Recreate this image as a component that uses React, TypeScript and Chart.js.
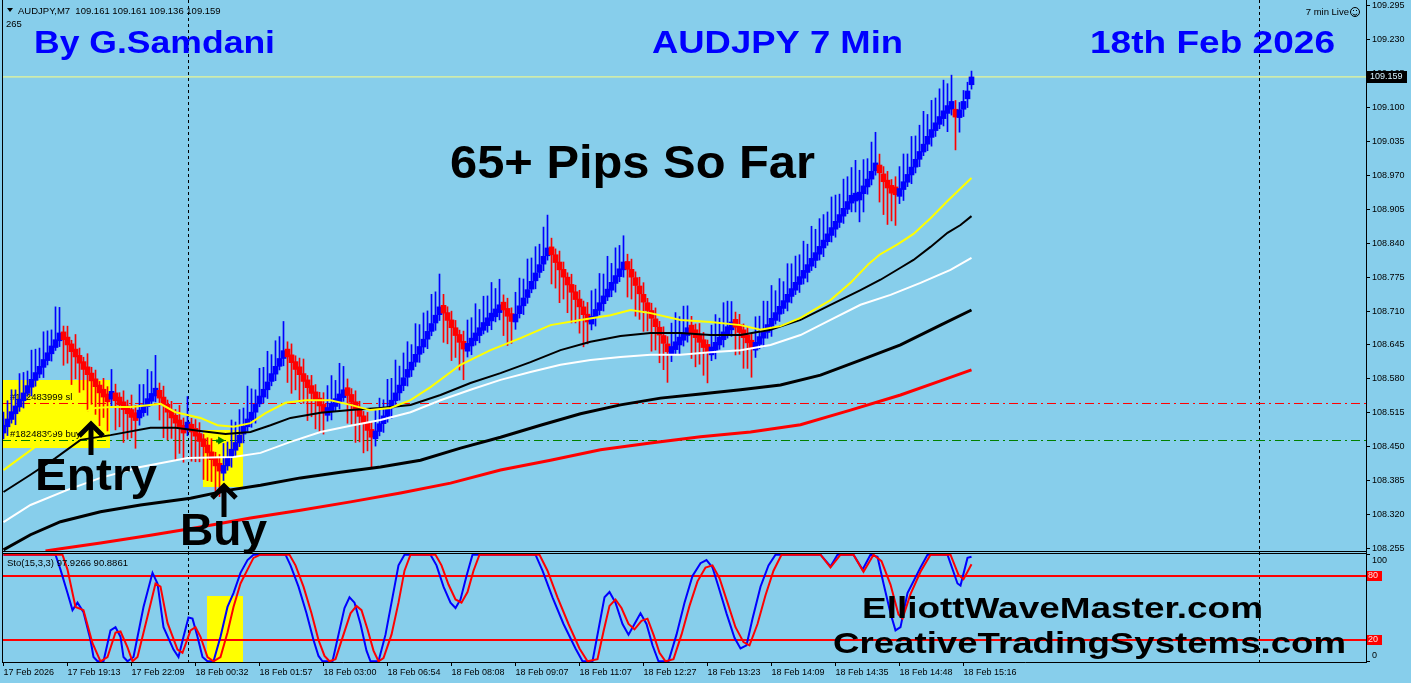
import React, { useEffect, useRef } from 'react';
import { Chart, registerables } from 'chart.js';
Chart.register(...registerables);

const BG = '#87CEEB';
const FONT = '"Liberation Sans", Arial, sans-serif';

// ---------- axis labels ----------
const timeLabels = [
  '17 Feb 2026', '17 Feb 19:13', '17 Feb 22:09', '18 Feb 00:32', '18 Feb 01:57', '18 Feb 03:00',
  '18 Feb 06:54', '18 Feb 08:08', '18 Feb 09:07', '18 Feb 11:07', '18 Feb 12:27', '18 Feb 13:23',
  '18 Feb 14:09', '18 Feb 14:35', '18 Feb 14:48', '18 Feb 15:16',
];
const LABEL_EVERY = 16;
const priceTicks = [108.255, 108.32, 108.385, 108.45, 108.515, 108.58, 108.645, 108.71, 108.775,
  108.84, 108.905, 108.97, 109.035, 109.1, 109.165, 109.23, 109.295];
const stochTicks = [0, 20, 80, 100];

// ---------- price bars (renko style bricks) ----------
const BRICK = 0.015;
const WICK_UNIT = 0.0014;
const closes = [
  108.491, 108.503, 108.517, 108.528, 108.541, 108.553, 108.567, 108.579, 108.592, 108.604, 108.617, 108.630, 108.643, 108.655, 108.668,
  108.655, 108.645, 108.632, 108.622, 108.610, 108.598, 108.588, 108.576, 108.565, 108.553, 108.545, 108.536,
  108.556,
  108.538, 108.530, 108.521, 108.513, 108.506, 108.500,
  108.520, 108.530, 108.542, 108.552, 108.562,
  108.543, 108.530, 108.516, 108.505, 108.495, 108.486, 108.476,
  108.497,
  108.478, 108.470, 108.460, 108.450, 108.438, 108.425, 108.413, 108.403,
  108.414, 108.428, 108.445, 108.458, 108.472, 108.489, 108.503, 108.516, 108.531, 108.547, 108.560, 108.574, 108.590, 108.604, 108.619, 108.634,
  108.622, 108.611, 108.598, 108.588, 108.575, 108.563, 108.552, 108.540, 108.528, 108.516,
  108.525, 108.533, 108.542, 108.551, 108.559,
  108.548, 108.535, 108.521, 108.508, 108.494, 108.481, 108.468,
  108.480, 108.494, 108.509, 108.523, 108.539, 108.553, 108.568, 108.582, 108.598, 108.612, 108.627, 108.642, 108.656, 108.671, 108.686, 108.702, 108.718,
  108.706, 108.692, 108.678, 108.663, 108.650, 108.637,
  108.648, 108.658, 108.668, 108.678, 108.688, 108.697, 108.706, 108.714, 108.722,
  108.712, 108.700, 108.690,
  108.704, 108.720, 108.735, 108.751, 108.767, 108.783, 108.799, 108.815, 108.831,
  108.818, 108.803, 108.789, 108.775, 108.760, 108.746, 108.732, 108.718, 108.703, 108.689,
  108.700, 108.713, 108.726, 108.739, 108.752, 108.765, 108.778, 108.791, 108.804,
  108.790, 108.775, 108.759, 108.743, 108.727, 108.711, 108.696, 108.680, 108.664, 108.648, 108.632,
  108.642, 108.651, 108.660, 108.669, 108.678,
  108.668, 108.659, 108.650, 108.640, 108.631,
  108.641, 108.650, 108.660, 108.670, 108.680, 108.689,
  108.679, 108.669, 108.659, 108.649, 108.639,
  108.650, 108.661, 108.673, 108.684, 108.696, 108.707, 108.719, 108.730, 108.742, 108.753, 108.765, 108.776, 108.788, 108.799, 108.811,
  108.822, 108.834, 108.846, 108.858, 108.870, 108.882, 108.895, 108.907, 108.920, 108.932, 108.936, 108.938, 108.950, 108.963, 108.978, 108.994,
  108.975, 108.958, 108.946, 108.936, 108.933,
  108.945, 108.958, 108.972, 108.986, 109.001, 109.016, 109.030, 109.045, 109.058, 109.071, 109.083, 109.094, 109.104, 109.112,
  109.082,
  109.096, 109.112, 109.132, 109.159,
];
// wick lengths beyond the body, in WICK_UNIT
const wickUp = [
  18, 25, 30, 22, 35, 28, 20, 40, 32, 25, 38, 30, 22, 45, 35,
  8, 15, 5, 20, 10, 6, 18, 8, 12, 5, 15, 10,
  30,
  12, 6, 15, 8, 20, 10,
  35, 28, 40, 30, 45,
  10, 15, 6, 12, 8, 20, 10,
  35,
  8, 12, 15, 6, 10, 18, 8, 12,
  30, 22, 40, 28, 35, 25, 45, 32, 20, 38, 30, 42, 26, 35, 30, 40,
  10, 15, 8, 12, 20, 6, 14, 10, 8, 16,
  30, 38, 25, 42, 32,
  12, 8, 15, 10, 6, 14, 10,
  28, 35, 22, 40, 30, 45, 26, 34, 38, 24, 42, 30, 36, 28, 40, 32, 45,
  15, 8, 12, 10, 6, 14,
  32, 28, 40, 25, 36, 30, 42, 28, 35,
  10, 14, 8,
  30, 38, 26, 42, 32, 36, 28, 40, 45,
  12, 8, 15, 10, 6, 14, 9, 12, 8, 16,
  35, 28, 40, 30, 45, 26, 38, 32, 36,
  10, 14, 8, 12, 16, 6, 10, 15, 8, 12, 10,
  32, 40, 28, 36, 30,
  12, 8, 15, 10, 6,
  30, 38, 26, 40, 35, 28,
  10, 14, 8, 12, 9,
  35, 28, 40, 32, 45, 30, 38, 26, 42, 34, 36, 30, 40, 28, 44,
  32, 38, 35, 30, 42, 36, 28, 40, 34, 38, 45, 30, 36, 28, 40, 42,
  15, 10, 12, 8, 14,
  30, 38, 28, 42, 32, 36, 45, 30, 40, 34, 38, 42, 30, 36,
  12,
  10, 15, 12, 8,
];
const wickDn = [
  8, 12, 5, 15, 6, 10, 4, 12, 8, 5, 14, 6, 10, 4, 8,
  35, 25, 45, 30, 40, 28, 50, 32, 38, 45, 28, 40,
  10,
  40, 30, 45, 35, 28, 38,
  10, 5, 12, 6, 8,
  30, 45, 38, 28, 50, 35, 40,
  8,
  40, 35, 28, 45, 38, 30, 42, 35,
  10, 6, 14, 8, 5, 12, 6, 10, 15, 4, 8, 12, 6, 9, 5, 10,
  35, 42, 28, 38, 30, 45, 32, 40, 36, 30,
  8, 12, 6, 10, 5,
  38, 30, 45, 35, 40, 28, 42,
  10, 6, 12, 8, 14, 5, 10, 7, 12, 9, 6, 11, 8, 13, 6, 10, 8,
  40, 32, 45, 30, 38, 42,
  8, 12, 6, 10, 5, 9, 12, 7, 10,
  35, 40, 30,
  10, 6, 12, 8, 5, 11, 7, 9, 6,
  40, 35, 45, 30, 38, 42, 32, 36, 44, 30,
  8, 12, 6, 10, 5, 9, 12, 7, 10,
  38, 30, 42, 35, 40, 28, 45, 32, 38, 36, 42,
  10, 6, 12, 8, 9,
  35, 40, 30, 38, 42,
  8, 12, 6, 10, 5, 9,
  38, 30, 42, 35, 40,
  10, 6, 12, 8, 14, 5, 10, 7, 12, 9, 6, 11, 8, 13, 6,
  10, 8, 12, 5, 9, 11, 7, 10, 6, 12, 15, 30, 25, 10, 8, 6,
  40, 45, 50, 38, 42,
  10, 15, 6, 12, 8, 10, 5, 9, 12, 8, 6, 10, 25, 8,
  45,
  20, 10, 12, 6,
];

// ---------- moving averages: [bar index, price] ----------
const maYellow: [number, number][] = [
  [0, 108.405], [7.5, 108.447], [13, 108.482], [18, 108.511], [23, 108.524], [26.75, 108.526], [31.75, 108.526],
  [36.75, 108.530], [39.25, 108.532], [43, 108.516], [49.25, 108.505], [53.5, 108.491], [57.5, 108.488],
  [61.75, 108.495], [65.5, 108.514], [70.5, 108.534], [75.5, 108.539], [81.75, 108.539], [86.75, 108.530],
  [91.75, 108.520], [96.75, 108.524], [101.75, 108.539], [106.75, 108.564], [114.25, 108.607], [121.75, 108.635],
  [129.25, 108.658], [136.75, 108.683], [144.25, 108.693], [151.75, 108.702], [156.75, 108.712], [161.75, 108.706],
  [169.25, 108.693], [176.75, 108.689], [184.25, 108.683], [189.25, 108.674], [194.25, 108.681], [199.25, 108.697],
  [206.75, 108.731], [211.75, 108.764], [216.25, 108.800], [219, 108.818], [223.5, 108.838], [227.5, 108.858],
  [231.75, 108.888], [236, 108.921], [239.25, 108.945], [242, 108.965],
];
const maBlackThin: [number, number][] = [
  [0, 108.363], [6.75, 108.396], [13, 108.428], [19.25, 108.463], [26.75, 108.472], [36.75, 108.486], [43, 108.486],
  [49.25, 108.480], [55.5, 108.474], [61.75, 108.478], [66.75, 108.491], [71.75, 108.505], [79.25, 108.515],
  [86.75, 108.520], [94.25, 108.524], [101.75, 108.530], [109.25, 108.549], [116.75, 108.572], [124.25, 108.591],
  [131.75, 108.612], [139.25, 108.635], [146.75, 108.651], [154.25, 108.662], [161.75, 108.668], [169.25, 108.668],
  [176.75, 108.664], [184.25, 108.664], [191.75, 108.674], [199.25, 108.693], [206.75, 108.722], [214.25, 108.750],
  [219.25, 108.770], [224.25, 108.793], [227.5, 108.808], [231.75, 108.833], [236, 108.860], [239.25, 108.875], [242, 108.892],
];
const maWhite: [number, number][] = [
  [0, 108.305], [6.75, 108.338], [16, 108.367], [24.25, 108.390], [34.25, 108.411], [46, 108.428], [57.5, 108.430],
  [64.25, 108.438], [71.75, 108.459], [79.25, 108.478], [86.75, 108.490], [94.25, 108.501], [101.75, 108.516],
  [109.25, 108.539], [116.75, 108.559], [124.25, 108.578], [131.75, 108.593], [139.25, 108.607], [146.75, 108.616],
  [154.25, 108.622], [161.75, 108.626], [169.25, 108.626], [176.75, 108.631], [184.25, 108.635], [191.75, 108.645],
  [199.25, 108.664], [206.75, 108.693], [214.25, 108.722], [221.75, 108.741], [229.25, 108.764], [236.75, 108.789], [242, 108.812],
];
const maBlackThick: [number, number][] = [
  [0, 108.252], [6.75, 108.281], [14.25, 108.306], [24.25, 108.325], [34.25, 108.338], [46.75, 108.351], [56.75, 108.367],
  [64.25, 108.376], [74.25, 108.390], [84.25, 108.401], [94.25, 108.411], [104.25, 108.424], [114.25, 108.447],
  [124.25, 108.468], [134.25, 108.491], [144.25, 108.513], [154.25, 108.530], [164.25, 108.543], [174.25, 108.551],
  [184.25, 108.559], [194.25, 108.568], [204.25, 108.587], [214.25, 108.616], [224.25, 108.645], [234.25, 108.683], [242, 108.712],
];
const maRed: [number, number][] = [
  [10.5, 108.250], [14.25, 108.254], [24.25, 108.265], [36.75, 108.280], [49.25, 108.296], [61.75, 108.313], [74.25, 108.328],
  [86.75, 108.344], [99.25, 108.361], [111.75, 108.380], [124.25, 108.405], [136.75, 108.424], [149.25, 108.444],
  [161.75, 108.457], [174.25, 108.469], [186.75, 108.478], [199.25, 108.492], [211.75, 108.520], [224.25, 108.549],
  [234.25, 108.576], [242, 108.597],
];

// ---------- stochastic (15,3,3): [bar index, value] ----------
const stochMain: [number, number][] = [
  [0, 100], [13, 100], [14.25, 86], [16, 64], [17.25, 48], [18.5, 55], [20, 46], [21.75, 20], [22.5, 4], [23.5, 0], [25, 0],
  [26.75, 29], [28, 32], [29.25, 23], [30, 4], [31, 0], [32.5, 4], [35, 51], [37.25, 83], [38.5, 73], [40, 32], [42.5, 11],
  [43.75, 4], [45, 23], [46.25, 41], [47.25, 40], [48.5, 23], [49.75, 4], [51, 0], [52.5, 0], [54.25, 23], [56, 51],
  [57.5, 64], [59.25, 83], [61, 95], [62.5, 100], [70.5, 100], [71.75, 90], [73.75, 70], [75.75, 45], [77.5, 20],
  [78.75, 5], [79.75, 0], [82.25, 0], [83.75, 25], [85.25, 50], [86.5, 60], [87.75, 55], [89.25, 35], [90.75, 10],
  [91.75, 0], [93.75, 0], [95.5, 25], [97.25, 60], [98.75, 90], [100.25, 100], [106.75, 100], [108.25, 90], [110, 70],
  [111.75, 55], [113, 50], [114.25, 58], [115.75, 80], [117.25, 100], [133, 100], [134.75, 85], [137.25, 60], [140, 35],
  [143, 12], [144.75, 0], [147.25, 0], [148.75, 30], [150.25, 60], [151.5, 65], [153, 55], [154.75, 35], [156.25, 25],
  [157.75, 35], [159.25, 45], [160.75, 35], [162.25, 15], [163.75, 0], [166.25, 0], [168.25, 25], [170.25, 55],
  [172.25, 80], [174.25, 92], [175.75, 95], [177.25, 88], [178.75, 70], [180.75, 45], [182.75, 22], [184.25, 12],
  [185.75, 15], [187.25, 40], [189.25, 70], [191.25, 90], [193, 100], [204.25, 100], [206.75, 89], [208.5, 100],
  [212.5, 100], [214.75, 86], [216.75, 100], [218.5, 98], [220, 73], [221.75, 45], [223, 29], [224.25, 32], [226, 64],
  [229.25, 88], [231, 100], [236, 100], [238.5, 73], [239.25, 71], [241, 97], [242, 98],
];
const stochSignal: [number, number][] = [
  [0, 100], [14.75, 100], [16, 86], [18, 51], [20, 48], [22.25, 17], [24.25, 0], [26, 4], [28, 27], [29.25, 28], [31, 13],
  [32.25, 0], [33.5, 4], [36, 42], [38, 73], [39.25, 70], [41, 36], [43.5, 11], [44.75, 8], [46.75, 29], [48, 32],
  [49.25, 23], [51, 4], [52.5, 0], [54.25, 4], [56, 27], [57.5, 51], [59.25, 73], [61, 86], [62.5, 97], [64.25, 100],
  [71.5, 100], [73, 90], [75, 70], [77, 45], [78.75, 20], [80.25, 5], [81.5, 0], [83, 2], [85, 25], [86.75, 45],
  [88.25, 52], [89.5, 48], [91, 30], [92.5, 10], [93.75, 0], [95, 3], [97, 25], [98.75, 55], [100.25, 85], [101.75, 100],
  [108, 100], [109.5, 90], [111.25, 72], [113, 58], [114.5, 55], [116, 65], [117.5, 85], [119, 100], [134, 100],
  [136, 85], [138.5, 60], [141.25, 35], [144, 12], [146, 0], [148.5, 2], [150, 28], [151.5, 52], [153, 58], [154.5, 50],
  [156.25, 35], [157.75, 30], [159.5, 38], [161, 40], [162.5, 25], [164, 8], [165.5, 0], [167.5, 2], [169.5, 25],
  [171.5, 52], [173.5, 75], [175.5, 88], [177.25, 90], [179, 78], [181, 55], [183, 32], [185, 18], [186.5, 15],
  [188.5, 35], [190.5, 62], [192.5, 85], [194.5, 100], [204.25, 100], [206.75, 88], [209.25, 100], [212.5, 100],
  [215, 84], [217.5, 100], [219.5, 94], [221.75, 72], [223.75, 44], [224.75, 40], [226.75, 63], [229.25, 84],
  [231.75, 100], [236.75, 100], [238.75, 81], [240, 77], [242, 91],
];

// ---------- horizontal levels ----------
const currentPrice = 109.159;
const slPrice = 108.5327;
const buyPrice = 108.4617;
const stochLevels = [80, 20];

// ---------- view ----------
const X_MIN = -0.375;
const X_MAX = 340.625;
const Y_MIN = 108.2498;
const Y_MAX = 109.3065;
const S_MIN = -0.66;
const S_MAX = 103.47;

function stretchText(ctx: CanvasRenderingContext2D, text: string, x: number, base: number, size: number, width: number, color: string) {
  ctx.save();
  ctx.font = `bold ${size}px ${FONT}`;
  const w = ctx.measureText(text).width;
  ctx.translate(x, base);
  ctx.scale(width / w, 1);
  ctx.fillStyle = color;
  ctx.textAlign = 'left';
  ctx.textBaseline = 'alphabetic';
  ctx.fillText(text, 0, 0);
  ctx.restore();
}

function upArrow(ctx: CanvasRenderingContext2D, cx: number, tip: number, bottom: number) {
  ctx.save();
  ctx.strokeStyle = '#000';
  ctx.lineWidth = 5;
  ctx.lineJoin = 'miter';
  ctx.lineCap = 'butt';
  ctx.beginPath();
  ctx.moveTo(cx, tip + 4);
  ctx.lineTo(cx, bottom);
  ctx.stroke();
  ctx.beginPath();
  ctx.moveTo(cx - 12, tip + 14);
  ctx.lineTo(cx, tip + 2);
  ctx.lineTo(cx + 12, tip + 14);
  ctx.stroke();
  ctx.restore();
}

const overlay = {
  id: 'overlay',
  beforeDraw(chart: any) {
    const ctx = chart.ctx;
    ctx.save();
    ctx.fillStyle = BG;
    ctx.fillRect(0, 0, chart.width, chart.height);
    ctx.restore();
  },
  beforeDatasetsDraw(chart: any) {
    const ctx: CanvasRenderingContext2D = chart.ctx;
    const x = chart.scales.x, y = chart.scales.y, s = chart.scales.y2;
    ctx.save();
    ctx.fillStyle = '#ffff00';
    const rect = (x0: number, x1: number, ya: number, yb: number) => {
      const l = Math.round(x.getPixelForValue(x0)), r = Math.round(x.getPixelForValue(x1));
      const t = Math.round(Math.min(ya, yb)), b = Math.round(Math.max(ya, yb));
      ctx.fillRect(l, t, r - l, b - t);
    };
    rect(-0.125, 26.6, y.getPixelForValue(108.578), y.getPixelForValue(108.447));
    rect(49.9, 59.9, y.getPixelForValue(108.482), y.getPixelForValue(108.373));
    rect(50.9, 59.9, s.getPixelForValue(61), s.getPixelForValue(S_MIN));

    ctx.fillStyle = '#000';
    ctx.font = `9.5px ${FONT}`;
    ctx.textBaseline = 'middle';
    ctx.fillText('#182483999 sl', 10, 397);
    ctx.fillText('#182483999 buy', 10, 434);

    // period separators
    ctx.strokeStyle = '#000';
    ctx.lineWidth = 1;
    ctx.setLineDash([3, 3]);
    for (const v of [46.1, 313.9]) {
      const px = Math.round(x.getPixelForValue(v)) + 0.5;
      ctx.beginPath();
      ctx.moveTo(px, 0);
      ctx.lineTo(px, 662);
      ctx.stroke();
    }
    ctx.restore();
  },
  afterDatasetsDraw(chart: any) {
    const ctx: CanvasRenderingContext2D = chart.ctx;
    const x = chart.scales.x, y = chart.scales.y;
    ctx.save();
    // buy marker
    const mx = x.getPixelForValue(54.4), my = y.getPixelForValue(buyPrice);
    ctx.fillStyle = '#008000';
    ctx.beginPath();
    ctx.moveTo(mx - 3, my - 4); ctx.lineTo(mx + 4, my); ctx.lineTo(mx - 3, my + 4); ctx.closePath();
    ctx.fill();
    ctx.fillRect(mx - 5, my - 1, 5, 3);

    // frame lines
    ctx.strokeStyle = '#000';
    ctx.lineWidth = 1;
    ctx.beginPath();
    ctx.moveTo(2.5, 0); ctx.lineTo(2.5, 662);
    ctx.moveTo(2, 551.5); ctx.lineTo(1366, 551.5);
    ctx.moveTo(2, 553.5); ctx.lineTo(1366, 553.5);
    ctx.stroke();

    // header
    ctx.fillStyle = '#000';
    ctx.beginPath();
    ctx.moveTo(7, 8); ctx.lineTo(13, 8); ctx.lineTo(10, 12); ctx.closePath(); ctx.fill();
    ctx.font = `9.5px ${FONT}`;
    ctx.textBaseline = 'middle';
    ctx.textAlign = 'left';
    ctx.fillText('AUDJPY,M7  109.161 109.161 109.136 109.159', 18, 11);
    ctx.fillText('265', 6, 24);
    ctx.fillText('Sto(15,3,3) 97.9266 90.8861', 7, 563);
    ctx.textAlign = 'right';
    ctx.fillText('7 min Live', 1349, 12);
    ctx.lineWidth = 1;
    ctx.beginPath(); ctx.arc(1355, 12, 4.5, 0, Math.PI * 2); ctx.stroke();
    ctx.beginPath(); ctx.arc(1355, 12.5, 2.5, 0.15 * Math.PI, 0.85 * Math.PI); ctx.stroke();
    ctx.fillRect(1353, 10, 1, 1); ctx.fillRect(1356, 10, 1, 1);

    // titles
    stretchText(ctx, 'By G.Samdani', 34, 53, 32, 241, '#0000ff');
    stretchText(ctx, 'AUDJPY 7 Min', 652, 53, 32, 251, '#0000ff');
    stretchText(ctx, '18th Feb 2026', 1090, 53, 32, 245, '#0000ff');
    stretchText(ctx, '65+ Pips So Far', 450, 178, 46, 365, '#000');
    stretchText(ctx, 'Entry', 35, 490, 45, 122, '#000');
    stretchText(ctx, 'Buy', 180, 545, 45, 87, '#000');
    stretchText(ctx, 'ElliottWaveMaster.com', 862, 618, 30, 401, '#000');
    stretchText(ctx, 'CreativeTradingSystems.com', 833, 653, 30, 513, '#000');
    upArrow(ctx, 91, 422, 455);
    upArrow(ctx, 224, 484, 517);
    ctx.restore();
  },
  afterDraw(chart: any) {
    const ctx: CanvasRenderingContext2D = chart.ctx;
    const y = chart.scales.y, s = chart.scales.y2;
    ctx.save();
    ctx.font = `9px ${FONT}`;
    ctx.textBaseline = 'middle';
    ctx.textAlign = 'left';
    const py = Math.round(y.getPixelForValue(currentPrice));
    ctx.fillStyle = '#000';
    ctx.fillRect(1367, py - 6, 40, 12);
    ctx.fillStyle = '#d6f3ff';
    ctx.fillText(currentPrice.toFixed(3), 1370, py);

    ctx.fillStyle = '#000';
    ctx.fillText('100', 1372, 561);
    ctx.fillText('0', 1372, 656);
    for (const lv of stochLevels) {
      const p = Math.round(s.getPixelForValue(lv));
      ctx.fillStyle = '#ff0000';
      ctx.fillRect(1367, p - 5, 15, 10);
      ctx.fillStyle = '#ffe0e0';
      ctx.fillText(String(lv), 1368, p);
    }
    ctx.restore();
  },
};

export default function App() {
  const ref = useRef<HTMLCanvasElement>(null);
  useEffect(() => {
    document.body.style.margin = '0';
    document.body.style.background = BG;
    const canvas = ref.current!;

    const bodies: any[] = [];
    const wicks: any[] = [];
    const colors: string[] = [];
    closes.forEach((c, i) => {
      const prev = i === 0 ? c - 1 : closes[i - 1];
      const up = c >= prev;
      const open = up ? c - BRICK : c + BRICK;
      const top = Math.max(open, c), bot = Math.min(open, c);
      bodies.push({ x: i, y: [bot, top] });
      wicks.push({ x: i, y: [bot - (wickDn[i] ?? 10) * WICK_UNIT, top + (wickUp[i] ?? 20) * WICK_UNIT] });
      colors.push(up ? '#0000ff' : '#ff0000');
    });
    const pts = (a: [number, number][]) => a.map(([px, py]) => ({ x: px, y: py }));
    const hline = (v: number) => [{ x: X_MIN, y: v }, { x: X_MAX, y: v }];
    const lineBase = { type: 'line', pointRadius: 0, tension: 0, fill: false, xAxisID: 'x' };
    const noPadY = (sc: any) => { sc.width = 45; sc.paddingTop = 0; sc.paddingBottom = 0; };

    const chart = new Chart(canvas, {
      type: 'bar',
      data: {
        datasets: [
          { ...lineBase, data: hline(currentPrice), borderColor: '#ffff80', borderWidth: 1, yAxisID: 'y', order: 40 },
          { ...lineBase, data: hline(slPrice), borderColor: '#ff0000', borderWidth: 1, borderDash: [9, 4, 2, 4], yAxisID: 'y', order: 40 },
          { ...lineBase, data: hline(buyPrice), borderColor: '#008000', borderWidth: 1, borderDash: [9, 4, 2, 4], yAxisID: 'y', order: 40 },
          { type: 'bar', data: wicks, backgroundColor: colors, barThickness: 1, grouped: false, xAxisID: 'x', yAxisID: 'y', order: 21 },
          { type: 'bar', data: bodies, backgroundColor: colors, barThickness: 5, grouped: false, xAxisID: 'x', yAxisID: 'y', order: 20 },
          { ...lineBase, data: pts(maRed), borderColor: '#ff0000', borderWidth: 3, yAxisID: 'y', order: 5 },
          { ...lineBase, data: pts(maBlackThick), borderColor: '#000000', borderWidth: 3, yAxisID: 'y', order: 4 },
          { ...lineBase, data: pts(maWhite), borderColor: '#ffffff', borderWidth: 2, yAxisID: 'y', order: 3 },
          { ...lineBase, data: pts(maBlackThin), borderColor: '#000000', borderWidth: 2, yAxisID: 'y', order: 2 },
          { ...lineBase, data: pts(maYellow), borderColor: '#ffff00', borderWidth: 2, yAxisID: 'y', order: 1 },
          ...stochLevels.map((lv) => ({ ...lineBase, data: hline(lv), borderColor: '#ff0000', borderWidth: 2, yAxisID: 'y2', order: 40 })),
          { ...lineBase, data: pts(stochMain), borderColor: '#0000ff', borderWidth: 2, yAxisID: 'y2', order: 1 },
          { ...lineBase, data: pts(stochSignal), borderColor: '#ff0000', borderWidth: 2, yAxisID: 'y2', order: 0 },
        ] as any,
      },
      options: {
        responsive: false,
        animation: false,
        events: [],
        layout: { padding: { left: 2, top: 0, right: 0, bottom: 0 } },
        plugins: { legend: { display: false }, tooltip: { enabled: false }, title: { display: false } },
        scales: {
          x: {
            type: 'linear', min: X_MIN, max: X_MAX, offset: false, position: 'bottom',
            grid: { drawOnChartArea: false, drawTicks: true, tickLength: 4, color: '#000', offset: false },
            border: { display: true, color: '#000', width: 1 },
            ticks: {
              autoSkip: false, maxRotation: 0, minRotation: 0, align: 'start', padding: 1, color: '#000',
              font: { family: FONT, size: 9 },
              callback: (v: any) => timeLabels[Math.round(Number(v) / LABEL_EVERY)] ?? '',
            },
            afterBuildTicks: (sc: any) => { sc.ticks = timeLabels.map((_, k) => ({ value: k * LABEL_EVERY })); },
            afterFit: (sc: any) => { sc.height = 21; sc.paddingLeft = 0; sc.paddingRight = 0; },
          },
          y: {
            type: 'linear', position: 'right', stack: 'panes', stackWeight: 551, min: Y_MIN, max: Y_MAX,
            grid: { drawOnChartArea: false, drawTicks: true, tickLength: 4, color: '#000' },
            border: { display: true, color: '#000', width: 1 },
            ticks: { color: '#000', padding: 2, font: { family: FONT, size: 9 }, callback: (v: any) => Number(v).toFixed(3) },
            afterBuildTicks: (sc: any) => { sc.ticks = priceTicks.map((v) => ({ value: v })); },
            afterFit: noPadY,
          },
          y2: {
            type: 'linear', position: 'right', stack: 'panes', stackWeight: 111, min: S_MIN, max: S_MAX,
            grid: { drawOnChartArea: false, drawTicks: true, tickLength: 4, color: '#000' },
            border: { display: true, color: '#000', width: 1 },
            ticks: { color: '#000', padding: 2, font: { family: FONT, size: 9 }, callback: () => '' },
            afterBuildTicks: (sc: any) => { sc.ticks = stochTicks.map((v) => ({ value: v })); },
            afterFit: noPadY,
          },
        },
      } as any,
      plugins: [overlay],
    });
    return () => chart.destroy();
  }, []);
  return <canvas ref={ref} width={1411} height={683} style={{ display: 'block', width: 1411, height: 683 }} />;
}
